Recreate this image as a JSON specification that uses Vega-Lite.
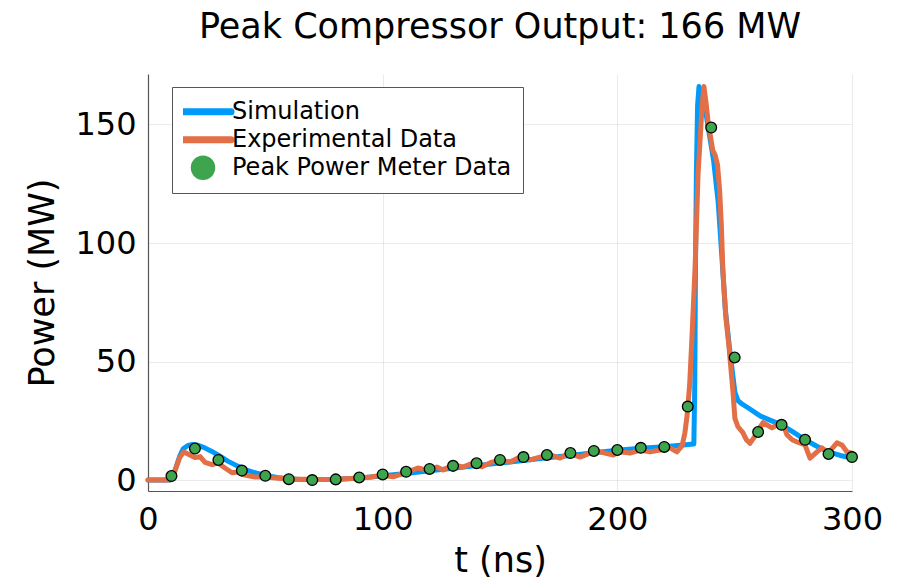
{
  "$schema": "https://vega.github.io/schema/vega-lite/v6.json",
  "width": 704,
  "height": 417,
  "autosize": {"type": "none"},
  "padding": {"left": 148, "top": 74, "right": 60, "bottom": 87},
  "background": "white",
  "config": {
    "font": "DejaVu Sans",
    "view": {"stroke": null},
    "axis": {
      "labelFont": "DejaVu Sans",
      "titleFont": "DejaVu Sans",
      "labelColor": "black",
      "titleColor": "black",
      "titleFontWeight": "normal",
      "grid": true,
      "gridColor": "black",
      "gridOpacity": 0.08,
      "domainColor": "#555555",
      "domainWidth": 1.2,
      "ticks": false,
      "labelFontSize": 32,
      "titleFontSize": 35
    }
  },
  "title": {
    "text": "Peak Compressor Output: 166 MW",
    "fontSize": 35,
    "fontWeight": "normal",
    "font": "DejaVu Sans",
    "color": "black",
    "anchor": "middle",
    "baseline": "alphabetic",
    "offset": 1
  },
  "data": {
    "values": [
      {"series": "Simulation", "t": 0, "p": 0},
      {"series": "Simulation", "t": 5, "p": 0},
      {"series": "Simulation", "t": 9.5, "p": 0},
      {"series": "Simulation", "t": 10.5, "p": 1.5},
      {"series": "Simulation", "t": 12, "p": 5.5},
      {"series": "Simulation", "t": 13.5, "p": 10},
      {"series": "Simulation", "t": 15, "p": 13.2},
      {"series": "Simulation", "t": 17, "p": 14.6},
      {"series": "Simulation", "t": 19, "p": 15},
      {"series": "Simulation", "t": 21, "p": 14.8},
      {"series": "Simulation", "t": 24, "p": 13.7},
      {"series": "Simulation", "t": 27, "p": 12.2},
      {"series": "Simulation", "t": 30, "p": 10.5},
      {"series": "Simulation", "t": 34, "p": 8},
      {"series": "Simulation", "t": 38, "p": 6},
      {"series": "Simulation", "t": 42, "p": 4.2},
      {"series": "Simulation", "t": 46, "p": 3},
      {"series": "Simulation", "t": 50, "p": 2},
      {"series": "Simulation", "t": 55, "p": 1.1},
      {"series": "Simulation", "t": 60, "p": 0.6},
      {"series": "Simulation", "t": 65, "p": 0.3},
      {"series": "Simulation", "t": 70, "p": 0.2},
      {"series": "Simulation", "t": 75, "p": 0.2},
      {"series": "Simulation", "t": 80, "p": 0.3},
      {"series": "Simulation", "t": 85, "p": 0.6},
      {"series": "Simulation", "t": 90, "p": 0.9},
      {"series": "Simulation", "t": 95, "p": 1.3},
      {"series": "Simulation", "t": 100, "p": 1.8},
      {"series": "Simulation", "t": 110, "p": 2.8},
      {"series": "Simulation", "t": 120, "p": 3.9},
      {"series": "Simulation", "t": 130, "p": 5.0},
      {"series": "Simulation", "t": 140, "p": 6.1},
      {"series": "Simulation", "t": 150, "p": 7.2},
      {"series": "Simulation", "t": 160, "p": 8.3},
      {"series": "Simulation", "t": 170, "p": 9.4},
      {"series": "Simulation", "t": 180, "p": 10.4},
      {"series": "Simulation", "t": 190, "p": 11.5},
      {"series": "Simulation", "t": 200, "p": 12.6},
      {"series": "Simulation", "t": 210, "p": 13.4},
      {"series": "Simulation", "t": 220, "p": 14.1},
      {"series": "Simulation", "t": 232.6, "p": 15.2},
      {"series": "Simulation", "t": 233.0, "p": 40},
      {"series": "Simulation", "t": 233.3, "p": 90},
      {"series": "Simulation", "t": 233.7, "p": 130},
      {"series": "Simulation", "t": 234.2, "p": 158},
      {"series": "Simulation", "t": 234.8, "p": 166},
      {"series": "Simulation", "t": 235.5, "p": 164},
      {"series": "Simulation", "t": 237.4, "p": 157},
      {"series": "Simulation", "t": 239, "p": 147},
      {"series": "Simulation", "t": 241, "p": 135},
      {"series": "Simulation", "t": 243, "p": 117},
      {"series": "Simulation", "t": 244.5, "p": 95},
      {"series": "Simulation", "t": 246, "p": 72},
      {"series": "Simulation", "t": 248, "p": 54},
      {"series": "Simulation", "t": 250.1, "p": 37},
      {"series": "Simulation", "t": 251.4, "p": 33.5},
      {"series": "Simulation", "t": 253, "p": 32.2},
      {"series": "Simulation", "t": 256, "p": 30.3},
      {"series": "Simulation", "t": 261, "p": 27},
      {"series": "Simulation", "t": 265, "p": 25.3},
      {"series": "Simulation", "t": 270, "p": 23.3},
      {"series": "Simulation", "t": 275, "p": 20.2},
      {"series": "Simulation", "t": 280, "p": 17},
      {"series": "Simulation", "t": 285, "p": 14.3},
      {"series": "Simulation", "t": 290, "p": 11.9},
      {"series": "Simulation", "t": 295, "p": 10.4},
      {"series": "Simulation", "t": 300, "p": 9.3},

      {"series": "Experimental Data", "t": 0, "p": 0},
      {"series": "Experimental Data", "t": 5, "p": 0},
      {"series": "Experimental Data", "t": 9, "p": 0},
      {"series": "Experimental Data", "t": 10, "p": 0.3},
      {"series": "Experimental Data", "t": 11, "p": 2.5},
      {"series": "Experimental Data", "t": 12, "p": 5.5},
      {"series": "Experimental Data", "t": 13.5, "p": 9.5},
      {"series": "Experimental Data", "t": 15.3, "p": 11.9},
      {"series": "Experimental Data", "t": 17, "p": 11},
      {"series": "Experimental Data", "t": 18.5, "p": 10.3},
      {"series": "Experimental Data", "t": 20, "p": 9.5},
      {"series": "Experimental Data", "t": 22.2, "p": 9.9},
      {"series": "Experimental Data", "t": 24.3, "p": 7.5},
      {"series": "Experimental Data", "t": 27.3, "p": 6.5},
      {"series": "Experimental Data", "t": 29.8, "p": 7.2},
      {"series": "Experimental Data", "t": 32.8, "p": 5.1},
      {"series": "Experimental Data", "t": 35.8, "p": 3.1},
      {"series": "Experimental Data", "t": 38.4, "p": 3.4},
      {"series": "Experimental Data", "t": 41.3, "p": 2.1},
      {"series": "Experimental Data", "t": 45.6, "p": 1.3},
      {"series": "Experimental Data", "t": 49.9, "p": 1.3},
      {"series": "Experimental Data", "t": 55.4, "p": 0.8},
      {"series": "Experimental Data", "t": 61.4, "p": 0.4},
      {"series": "Experimental Data", "t": 66.9, "p": 0.4},
      {"series": "Experimental Data", "t": 72, "p": 0.3},
      {"series": "Experimental Data", "t": 78.8, "p": 0.4},
      {"series": "Experimental Data", "t": 84, "p": 0.6},
      {"series": "Experimental Data", "t": 89.5, "p": 0.8},
      {"series": "Experimental Data", "t": 95, "p": 1.3},
      {"series": "Experimental Data", "t": 99.7, "p": 2.1},
      {"series": "Experimental Data", "t": 104.4, "p": 1.4},
      {"series": "Experimental Data", "t": 110.4, "p": 3.4},
      {"series": "Experimental Data", "t": 115, "p": 5.1},
      {"series": "Experimental Data", "t": 118.9, "p": 4.2},
      {"series": "Experimental Data", "t": 123.1, "p": 5.5},
      {"series": "Experimental Data", "t": 125.7, "p": 4.3},
      {"series": "Experimental Data", "t": 130, "p": 6.4},
      {"series": "Experimental Data", "t": 134.2, "p": 5.5},
      {"series": "Experimental Data", "t": 138.5, "p": 7.2},
      {"series": "Experimental Data", "t": 142.3, "p": 5.6},
      {"series": "Experimental Data", "t": 146.6, "p": 7.6},
      {"series": "Experimental Data", "t": 150, "p": 8.3},
      {"series": "Experimental Data", "t": 154.3, "p": 7.6},
      {"series": "Experimental Data", "t": 158.5, "p": 9.7},
      {"series": "Experimental Data", "t": 162.8, "p": 8.5},
      {"series": "Experimental Data", "t": 167, "p": 9.7},
      {"series": "Experimental Data", "t": 171.3, "p": 10.6},
      {"series": "Experimental Data", "t": 175.6, "p": 9.3},
      {"series": "Experimental Data", "t": 179.8, "p": 11.4},
      {"series": "Experimental Data", "t": 184.1, "p": 9.7},
      {"series": "Experimental Data", "t": 188.3, "p": 11.4},
      {"series": "Experimental Data", "t": 192.6, "p": 11.9},
      {"series": "Experimental Data", "t": 198.2, "p": 10.6},
      {"series": "Experimental Data", "t": 201.1, "p": 11.9},
      {"series": "Experimental Data", "t": 205.4, "p": 11.4},
      {"series": "Experimental Data", "t": 209.7, "p": 12.7},
      {"series": "Experimental Data", "t": 213.9, "p": 11.9},
      {"series": "Experimental Data", "t": 218.2, "p": 12.7},
      {"series": "Experimental Data", "t": 222.4, "p": 13.6},
      {"series": "Experimental Data", "t": 225.4, "p": 11.9},
      {"series": "Experimental Data", "t": 227.6, "p": 14.5},
      {"series": "Experimental Data", "t": 228.8, "p": 20},
      {"series": "Experimental Data", "t": 229.7, "p": 27},
      {"series": "Experimental Data", "t": 230.8, "p": 40},
      {"series": "Experimental Data", "t": 231.8, "p": 60},
      {"series": "Experimental Data", "t": 233.1, "p": 89},
      {"series": "Experimental Data", "t": 234.4, "p": 129},
      {"series": "Experimental Data", "t": 236.1, "p": 157.6},
      {"series": "Experimental Data", "t": 236.9, "p": 166},
      {"series": "Experimental Data", "t": 237.7, "p": 160},
      {"series": "Experimental Data", "t": 238.6, "p": 152},
      {"series": "Experimental Data", "t": 239.5, "p": 146},
      {"series": "Experimental Data", "t": 240.7, "p": 139},
      {"series": "Experimental Data", "t": 241.7, "p": 137},
      {"series": "Experimental Data", "t": 242.7, "p": 133},
      {"series": "Experimental Data", "t": 243.6, "p": 122},
      {"series": "Experimental Data", "t": 244.3, "p": 108},
      {"series": "Experimental Data", "t": 245, "p": 88},
      {"series": "Experimental Data", "t": 246.3, "p": 68},
      {"series": "Experimental Data", "t": 247.5, "p": 57},
      {"series": "Experimental Data", "t": 248.5, "p": 46},
      {"series": "Experimental Data", "t": 249.3, "p": 36.9},
      {"series": "Experimental Data", "t": 250.1, "p": 26},
      {"series": "Experimental Data", "t": 251.4, "p": 22.5},
      {"series": "Experimental Data", "t": 253.5, "p": 20},
      {"series": "Experimental Data", "t": 255, "p": 17},
      {"series": "Experimental Data", "t": 256.5, "p": 15.5},
      {"series": "Experimental Data", "t": 258.3, "p": 18},
      {"series": "Experimental Data", "t": 259.9, "p": 21},
      {"series": "Experimental Data", "t": 262.1, "p": 24.2},
      {"series": "Experimental Data", "t": 265.9, "p": 22},
      {"series": "Experimental Data", "t": 270.2, "p": 24.6},
      {"series": "Experimental Data", "t": 272.3, "p": 19.1},
      {"series": "Experimental Data", "t": 274.5, "p": 17},
      {"series": "Experimental Data", "t": 276.6, "p": 16.1},
      {"series": "Experimental Data", "t": 280, "p": 14.8},
      {"series": "Experimental Data", "t": 282.1, "p": 9.3},
      {"series": "Experimental Data", "t": 285.1, "p": 11.9},
      {"series": "Experimental Data", "t": 287.2, "p": 13.6},
      {"series": "Experimental Data", "t": 289.8, "p": 11.4},
      {"series": "Experimental Data", "t": 293.6, "p": 15.7},
      {"series": "Experimental Data", "t": 295.7, "p": 14.8},
      {"series": "Experimental Data", "t": 297.9, "p": 11.9},
      {"series": "Experimental Data", "t": 300, "p": 11.4},

      {"series": "Peak Power Meter Data", "t": 10, "p": 1.7},
      {"series": "Peak Power Meter Data", "t": 20, "p": 13.3},
      {"series": "Peak Power Meter Data", "t": 30, "p": 8.5},
      {"series": "Peak Power Meter Data", "t": 40, "p": 4.0},
      {"series": "Peak Power Meter Data", "t": 50, "p": 1.8},
      {"series": "Peak Power Meter Data", "t": 60, "p": 0.4},
      {"series": "Peak Power Meter Data", "t": 70, "p": 0.0},
      {"series": "Peak Power Meter Data", "t": 80, "p": 0.3},
      {"series": "Peak Power Meter Data", "t": 90, "p": 1.1},
      {"series": "Peak Power Meter Data", "t": 100, "p": 2.4},
      {"series": "Peak Power Meter Data", "t": 110, "p": 3.5},
      {"series": "Peak Power Meter Data", "t": 120, "p": 4.7},
      {"series": "Peak Power Meter Data", "t": 130, "p": 6.0},
      {"series": "Peak Power Meter Data", "t": 140, "p": 7.1},
      {"series": "Peak Power Meter Data", "t": 150, "p": 8.5},
      {"series": "Peak Power Meter Data", "t": 160, "p": 9.7},
      {"series": "Peak Power Meter Data", "t": 170, "p": 10.6},
      {"series": "Peak Power Meter Data", "t": 180, "p": 11.4},
      {"series": "Peak Power Meter Data", "t": 190, "p": 12.3},
      {"series": "Peak Power Meter Data", "t": 200, "p": 12.7},
      {"series": "Peak Power Meter Data", "t": 210, "p": 13.6},
      {"series": "Peak Power Meter Data", "t": 220, "p": 14.0},
      {"series": "Peak Power Meter Data", "t": 230, "p": 31.0},
      {"series": "Peak Power Meter Data", "t": 240, "p": 148.7},
      {"series": "Peak Power Meter Data", "t": 250, "p": 51.7},
      {"series": "Peak Power Meter Data", "t": 260, "p": 20.3},
      {"series": "Peak Power Meter Data", "t": 270, "p": 23.3},
      {"series": "Peak Power Meter Data", "t": 280, "p": 17.0},
      {"series": "Peak Power Meter Data", "t": 290, "p": 11.0},
      {"series": "Peak Power Meter Data", "t": 300, "p": 9.7}
    ]
  },
  "encoding": {
    "x": {
      "field": "t",
      "type": "quantitative",
      "scale": {"domain": [0, 300], "nice": false, "zero": false},
      "axis": {"title": "t (ns)", "values": [0, 100, 200, 300], "labelFlush": false, "labelPadding": 13, "titlePadding": 8}
    },
    "y": {
      "field": "p",
      "type": "quantitative",
      "scale": {"domain": [-4.6, 171.3], "nice": false, "zero": false},
      "axis": {"title": "Power (MW)", "values": [0, 50, 100, 150], "labelPadding": 12, "titlePadding": 14}
    },
    "color": {
      "field": "series",
      "type": "nominal",
      "scale": {
        "domain": ["Simulation", "Experimental Data", "Peak Power Meter Data"],
        "range": ["#009AFA", "#E26F46", "#3EA44E"]
      },
      "legend": {
        "title": null,
        "orient": "none",
        "legendX": 24,
        "legendY": 13,
        "padding": 11,
        "fillColor": "white",
        "strokeColor": "#555555",
        "labelFont": "DejaVu Sans",
        "labelFontSize": 24,
        "labelColor": "black",
        "labelLimit": 500,
        "symbolSize": 484,
        "clipHeight": 27.5,
        "rowPadding": 0,
        "labelOffset": 17,
        "symbolOffset": 8,
        "encode": {
          "symbols": {
            "enter": {
              "stroke": {"signal": "datum.value === 'Simulation' ? '#009AFA' : (datum.value === 'Experimental Data' ? '#E26F46' : '#111111')"}
            },
            "update": {
              "shape": {"signal": "datum.value === 'Peak Power Meter Data' ? 'circle' : 'M-2.55,0H2.55'"},
              "size": {"value": 484},
              "fill": {"signal": "datum.value === 'Peak Power Meter Data' ? '#3EA44E' : 'transparent'"},
              "stroke": {"signal": "datum.value === 'Simulation' ? '#009AFA' : (datum.value === 'Experimental Data' ? '#E26F46' : '#111111')"},
              "strokeWidth": {"signal": "datum.value === 'Peak Power Meter Data' ? 2.5 : 7"},
              "strokeCap": {"value": "round"},
              "opacity": {"value": 1},
              "fillOpacity": {"value": 1},
              "strokeOpacity": {"value": 1}
            }
          }
        }
      }
    }
  },
  "layer": [
    {
      "transform": [{"filter": "datum.series === 'Simulation'"}],
      "mark": {"type": "line", "strokeWidth": 5, "strokeJoin": "round", "strokeCap": "round"}
    },
    {
      "transform": [{"filter": "datum.series === 'Experimental Data'"}],
      "mark": {"type": "line", "strokeWidth": 5, "strokeJoin": "round", "strokeCap": "round"}
    },
    {
      "transform": [{"filter": "datum.series === 'Peak Power Meter Data'"}],
      "mark": {"type": "point", "filled": true, "shape": "circle", "size": 115, "strokeWidth": 1.3, "opacity": 1},
      "encoding": {"stroke": {"value": "black"}}
    }
  ]
}
